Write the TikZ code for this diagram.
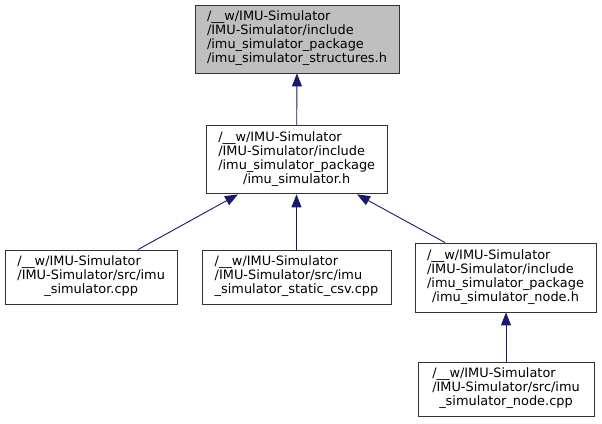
\documentclass[tikz,border=0pt]{standalone}
\usepackage{fontspec}
\setmainfont{DejaVu Sans}
\usetikzlibrary{arrows.meta,calc}
\definecolor{edgeblue}{HTML}{191970}
\definecolor{topfill}{HTML}{BFBFBF}
\newcommand{\dxlab}[2]{{\fontsize{12.9}{14}\selectfont\begin{tabular}{@{}l@{}}#1\\\multicolumn{1}{@{}c@{}}{#2}\end{tabular}}}
\tikzset{
  filebox/.style={draw=black!80, line width=0.9pt, fill=white, inner sep=0pt, anchor=center},
  edge/.style={draw=edgeblue, line width=0.9pt, {Triangle[length=13pt,width=10pt]}-}
}
\begin{document}
\begin{tikzpicture}[x=1pt,y=1pt]
\useasboundingbox (0,0) rectangle (602,423);
\node[filebox, fill=topfill, minimum width=204pt, minimum height=68pt] (n1) at (297,384)
  {\dxlab{/\_\_w/IMU-Simulator\\/IMU-Simulator/include\\/imu\_simulator\_package}{/imu\_simulator\_structures.h}};
\node[filebox, minimum width=180.5pt, minimum height=68.5pt] (n2) at (296.7,263.3)
  {\dxlab{/\_\_w/IMU-Simulator\\/IMU-Simulator/include\\/imu\_simulator\_package}{/imu\_simulator.h}};
\node[filebox, minimum width=172.5pt, minimum height=54pt] (n3) at (91.2,146)
  {\dxlab{/\_\_w/IMU-Simulator\\/IMU-Simulator/src/imu}{\_simulator.cpp}};
\node[filebox, minimum width=189pt, minimum height=54pt] (n4) at (296.5,146)
  {\dxlab{/\_\_w/IMU-Simulator\\/IMU-Simulator/src/imu}{\_simulator\_static\_csv.cpp}};
\node[filebox, minimum width=181pt, minimum height=69pt] (n5) at (505.5,145.5)
  {\dxlab{/\_\_w/IMU-Simulator\\/IMU-Simulator/include\\/imu\_simulator\_package}{/imu\_simulator\_node.h}};
\node[filebox, minimum width=176pt, minimum height=54pt] (n6) at (506,34)
  {\dxlab{/\_\_w/IMU-Simulator\\/IMU-Simulator/src/imu}{\_simulator\_node.cpp}};
\draw[edge] (n1.south) -- (n2.north);
\draw[edge] ([xshift=-58.7pt]n2.south) -- ([xshift=46.8pt]n3.north);
\draw[edge] (n2.south -| n4.north) -- (n4.north);
\draw[edge] ([xshift=60.3pt]n2.south) -- ([xshift=-60.5pt]n5.north);
\draw[edge] (n5.south -| n6.north) -- (n6.north);
\end{tikzpicture}
\end{document}
